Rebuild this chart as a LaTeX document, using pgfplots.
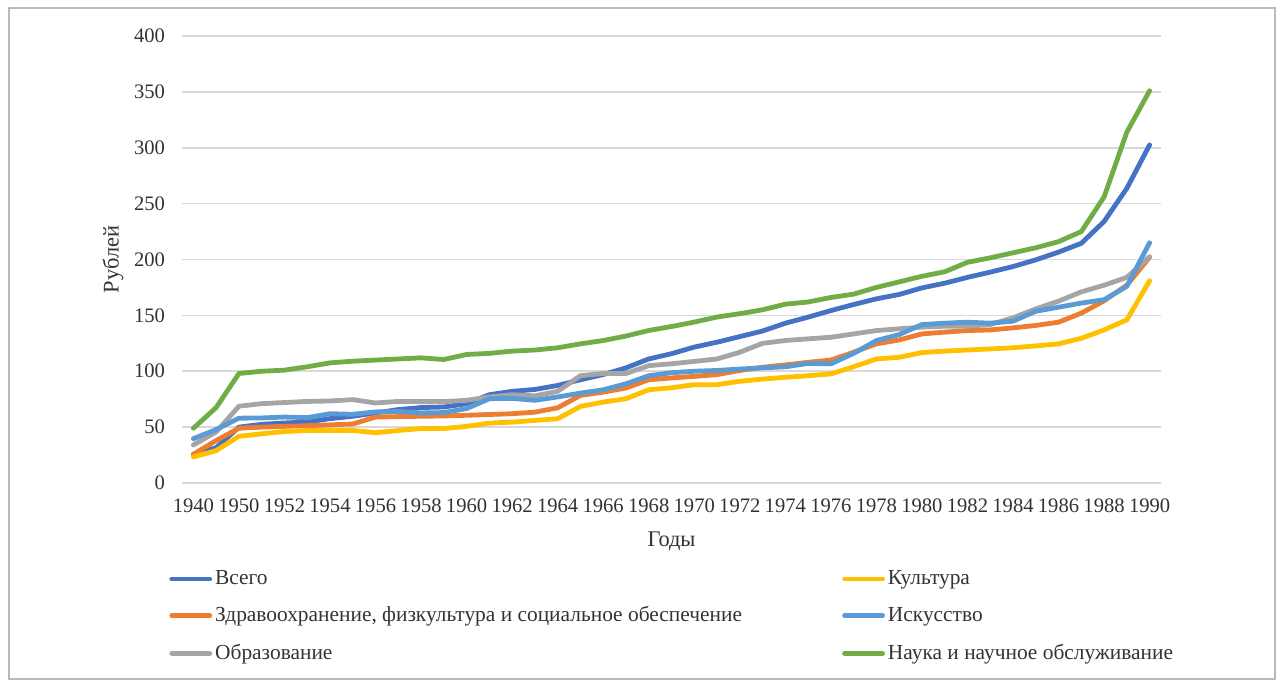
\documentclass[border=0pt]{standalone}
\usepackage{pgfplots}
\usepackage{pgfplotstable}
\usepackage{fontspec}
\setmainfont{Liberation Serif}
\pgfplotsset{compat=1.18}
\definecolor{cBlue}{HTML}{4472C4}
\definecolor{cOrange}{HTML}{ED7D31}
\definecolor{cGray}{HTML}{A5A5A5}
\definecolor{cGold}{HTML}{FFC000}
\definecolor{cLBlue}{HTML}{5B9BD5}
\definecolor{cGreen}{HTML}{70AD47}
\definecolor{cText}{HTML}{333333}
\definecolor{cGrid}{HTML}{D9D9D9}
\pgfplotstableread{
idx vsego zdrav obraz kult isk nauka
0 25.7 25.7 34 23.3 39.7 49
1 31.6 38 45.7 29 47.8 67.5
2 50 49 68.7 41.8 58 98
3 52.5 50 71 44 58.2 100
4 53.7 50.7 72 46 59 101
5 54.6 51.3 73 47 58.5 104
6 57.6 52 73.4 47 62 107.5
7 59.7 52.8 74.6 47 61.5 109
8 62.7 59 71.6 45 63.6 110
9 65.7 59.4 73 47 64 111
10 67.5 59.7 72.8 48.7 62.7 112
11 68 60 72.8 48.7 63 110.5
12 71 60.6 74 50.7 66.6 115
13 79 61.3 77 53.6 75.4 116
14 82 62 79 54.5 75.7 118
15 83.7 63.4 78 56 74 119
16 87.3 67.3 82 57.5 77 121
17 92.4 78.4 96 68.5 80.4 124.5
18 97 81.3 98 72.4 83.4 127.5
19 103 85 98 75.4 88.8 131.5
20 111 92.4 105 83.4 96 136.5
21 115.7 94 106.7 85.2 98.7 140
22 121.6 95.4 108.8 88 100 144
23 126 97 111 88 100.7 148.5
24 131 100.7 117 91 102 151.5
25 136 103.6 125 93 103 155
26 143 105.7 127.5 94.6 104 160
27 148.4 108 129 96 107 162
28 154.3 110 130.4 97.6 106.6 166
29 159.7 117 133.4 104 116 169
30 164.8 124.5 136.4 111 127.5 175
31 168.7 128 138 112.5 132.8 180
32 174.6 133.4 139.4 116.7 141.8 185
33 178.8 135 140.3 118 143 189
34 184 136.4 140.3 119 143.9 197.5
35 188.7 137 141.8 120 143 201.5
36 193.7 138.8 147.8 121 144.8 206
37 199.7 141 155.8 122.7 153.7 210.5
38 206.6 143.9 162.7 124.5 157.3 216
39 214.5 152 171 129.5 161 225
40 234 163 177 137 164 256
41 263.7 177 184 146 176 314
42 302.5 202 202.5 181 215 351
}\datatable
\begin{document}
\begin{tikzpicture}[font=\fontsize{10.3}{12.4}\selectfont]
\path[use as bounding box] (0pt,0pt) rectangle (641pt,340pt);
\draw[color=gray!55, line width=0.9pt] (4.5pt,0.6pt) rectangle (637.5pt,336pt);
\begin{axis}[
  at={(91pt,98.5pt)}, anchor=south west,
  scale only axis, width=489.5pt, height=223.5pt,
  xmin=-0.5, xmax=42.5, ymin=0, ymax=400,
  axis line style={draw=none},
  major tick length=0pt,
  ytick={0,50,...,400},
  xtick={0,2,...,42},
  xticklabels={1940,1950,1952,1954,1956,1958,1960,1962,1964,1966,1968,1970,1972,1974,1976,1978,1980,1982,1984,1986,1988,1990},
  /pgf/number format/assume math mode=true,
  ymajorgrids, grid style={cGrid, line width=0.8pt},
  tick label style={color=cText},
  yticklabel style={xshift=-5pt},
  xticklabel style={yshift=-4.5pt},
  ylabel={Рублей}, xlabel={Годы},
  label style={color=cText, font=\fontsize{11.2}{13.4}\selectfont},
  ylabel style={at={(axis description cs:-0.0705,0.5)}, anchor=center, rotate=0},
  xlabel style={at={(axis description cs:0.5,-0.1305)}, anchor=center},
  every axis plot/.append style={line width=2.4pt, line join=round, line cap=round},
  legend image code/.code={\draw[#1] (0pt,0pt) -- (19pt,0pt);},
  legend columns=2,
  legend cell align=left,
  legend style={at={(axis description cs:-0.0133,-0.188)}, anchor=north west,
    draw=none, fill=none, inner sep=0pt, row sep=6.6pt, column sep=0pt,
    text=cText, font=\fontsize{10.7}{12.8}\selectfont, nodes={inner sep=1.5pt}},
]
\addplot[cBlue, forget plot] table[x=idx, y=vsego] {\datatable};
\addplot[cOrange, forget plot] table[x=idx, y=zdrav] {\datatable};
\addplot[cGray, forget plot] table[x=idx, y=obraz] {\datatable};
\addplot[cGold, forget plot] table[x=idx, y=kult] {\datatable};
\addplot[cLBlue, forget plot] table[x=idx, y=isk] {\datatable};
\addplot[cGreen, forget plot] table[x=idx, y=nauka] {\datatable};
\addlegendimage{cBlue, line width=2.4pt, line cap=round}
\addlegendentry{\makebox[312pt][l]{Всего}}
\addlegendimage{cGold, line width=2.4pt, line cap=round}
\addlegendentry{Культура}
\addlegendimage{cOrange, line width=2.4pt, line cap=round}
\addlegendentry{\makebox[312pt][l]{Здравоохранение, физкультура и социальное обеспечение}}
\addlegendimage{cLBlue, line width=2.4pt, line cap=round}
\addlegendentry{Искусство}
\addlegendimage{cGray, line width=2.4pt, line cap=round}
\addlegendentry{\makebox[312pt][l]{Образование}}
\addlegendimage{cGreen, line width=2.4pt, line cap=round}
\addlegendentry{Наука и научное обслуживание}
\end{axis}
\end{tikzpicture}
\end{document}
